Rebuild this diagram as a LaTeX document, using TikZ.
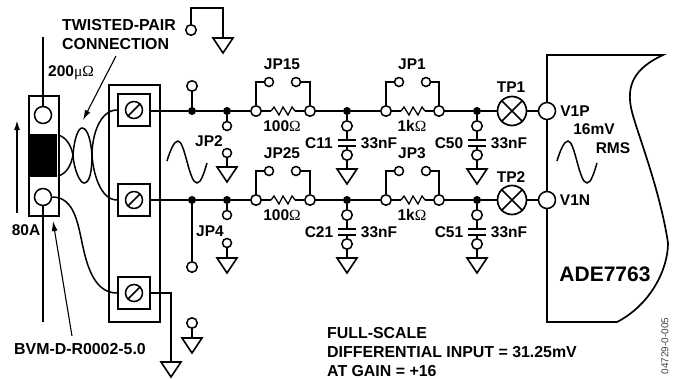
\documentclass[tikz,border=0pt]{standalone}
\usepackage{fontspec}
\setmainfont{Liberation Sans}
\newfontfamily\symfont{Liberation Serif}
\usetikzlibrary{arrows.meta}
\tikzset{
    lab/.style={font=\fontsize{15.5}{19}\selectfont\bfseries,inner sep=0pt},
    longlab/.style={inner sep=0pt,font=\fontsize{15.9}{19}\selectfont\bfseries},
    wire/.style={line width=1.7pt},
    pin/.style={circle,draw,line width=1.5pt,fill=white,inner sep=0pt,minimum size=10.5pt},
    smallpin/.style={pin,minimum size=9pt},
    bigpin/.style={pin,minimum size=17pt},
    dot/.style={circle,fill=black,inner sep=0pt,minimum size=8pt},
    term/.style={draw,line width=1.7pt,fill=white,inner sep=0pt,minimum size=32pt},
    testpt/.style={circle,draw,line width=1.7pt,fill=white,inner sep=0pt,minimum size=29pt},
    tip/.style={-{Latex[length=10pt,width=6pt]}},
    gnd/.pic={\draw[line width=1.6pt,line join=miter] (-10,0) -- (10,0) -- (0,15) -- cycle;},
    res/.pic={\draw[line width=1.3pt,fill=none] (-12,0) -- (-9,-4) -- (-4,4) -- (0,-4) -- (5,4) -- (9,-4) -- (12,0);},
    cap/.pic={\draw[line width=2pt] (-9,-3) -- (9,-3) (-9,3) -- (9,3);},
    screw/.pic={\draw[line width=1.5pt] (0,0) circle (8.5); \draw[line width=1.5pt] (-6,6) -- (6,-6);},
    sine/.pic={\draw[line width=1.5pt] (0,0) .. controls (3,-10) and (7,-20) .. (11,-20)
        .. controls (18,-20) and (22,22) .. (30,22) .. controls (34,22) and (37,12) .. (40,2);},
}
\newcommand{\ohms}{{\symfont\mdseries Ω}}
\begin{document}
\begin{tikzpicture}[x=1pt,y=-1pt]
\useasboundingbox (0,0) rectangle (674,378);

% chip outline
\draw[wire] (547,55) -- (663,55) .. controls (635,68) and (625,85) .. (632,112)
    .. controls (638,135) and (660,190) .. (668,243)
    .. controls (668,270) and (650,305) .. (617,322) -- (547,322) -- cycle;
\node[lab,font=\fontsize{21}{24}\selectfont\bfseries] (chip) at (605,274) {ADE7763};

% terminal block
\draw[wire] (109,85) rectangle (160,322);
\foreach \name/\y in {ta/110,tb/200,tc/293}{
    \node[term] (\name) at (134,\y) {};
    \pic at (134,\y) {screw};
}

% shunt
\draw[wire] (29,96) rectangle (59,216);
\fill (29,134) rectangle (57,177);
\node[bigpin] (sa) at (43,115) {};
\node[bigpin] (sb) at (43,197) {};
\coordinate (sup) at (43,37);
\coordinate (sdn) at (43,322);
\draw[wire] (sup) -- (sa);
\draw[wire] (sb) -- (sdn);
\coordinate (ia) at (17,213);
\coordinate (ib) at (17,120);
\draw[wire,tip] (ia) -- (ib);
\node[lab] (rval) at (71,73) {200{\symfont\mdseries μ}\ohms};
\node[lab] (amps) at (26,230) {80A};
\node[longlab] (part) at (80,349) {BVM-D-R0002-5.0};

% twisted pair
\draw[line width=1.5pt] (58,135) .. controls (66,137) and (71,145) .. (73,155)
    .. controls (74,170) and (80,183) .. (84,183) .. controls (90,183) and (92,170) .. (92,155)
    .. controls (92,135) and (100,110) .. (ta.west);
\draw[line width=1.5pt] (58,176) .. controls (66,174) and (71,166) .. (73,155)
    .. controls (74,140) and (78,128) .. (82,128) .. controls (88,128) and (91,142) .. (92,155)
    .. controls (93,172) and (100,200) .. (tb.west);
\draw[line width=1.5pt] (sb.east) .. controls (75,197) and (78,225) .. (83,247)
    .. controls (88,270) and (96,293) .. (tc.west);
\node[longlab,align=left,anchor=north west] (twist) at (62,19.5) {TWISTED-PAIR\\CONNECTION};
\coordinate (ta1) at (116,56);
\coordinate (ta2) at (83,120);
\draw[line width=1.1pt,tip] (ta1) -- (ta2);
\coordinate (tb1) at (72,336);
\coordinate (tb2) at (53,221);
\draw[line width=1.1pt,tip] (tb1) -- (tb2);

% grounds away from the rails
\node[pin] (pa) at (191,30) {};
\coordinate (ga) at (223,38);
\draw[wire] (pa) |- (223,8) -- (ga);
\pic at (ga) {gnd};
\node[pin] (pb) at (192,323) {};
\coordinate (gb) at (192,338);
\draw[wire] (pb) -- (gb);
\pic at (gb) {gnd};
\coordinate (gc) at (171,362);
\draw[wire] (tc) -| (gc);
\pic at (gc) {gnd};
\node[term] at (134,293) {};
\pic at (134,293) {screw};

% rails with jumpers, resistors and caps
\foreach \y/\ja/\jb/\ca/\cb in {111/15/1/11/50,200/25/3/21/51}{
    \pgfmathtruncatemacro{\u}{\y-29}
    \pgfmathtruncatemacro{\v}{\y+15}
    \pgfmathtruncatemacro{\w}{\y+44}
    \pgfmathtruncatemacro{\g}{\y+58}
    \pgfmathtruncatemacro{\t}{\y+32}
    \pgfmathtruncatemacro{\l}{\y-47}
    \pgfmathtruncatemacro{\m}{\y+15}
    \node[pin] (a\y) at (256,\y) {};
    \node[pin] (b\y) at (310,\y) {};
    \node[pin] (c\y) at (386,\y) {};
    \node[pin] (d\y) at (439,\y) {};
    \node[smallpin] (e\y) at (269,\u) {};
    \node[smallpin] (f\y) at (296,\u) {};
    \node[smallpin] (g\y) at (399,\u) {};
    \node[smallpin] (h\y) at (426,\u) {};
    \draw[wire] (a\y) |- (e\y);
    \draw[wire] (b\y) |- (f\y);
    \draw[wire] (c\y) |- (g\y);
    \draw[wire] (d\y) |- (h\y);
    \coordinate (ra\y) at (283,\y);
    \coordinate (rb\y) at (413,\y);
    \draw[wire] (a\y) -- (271,\y);
    \draw[wire] (295,\y) -- (b\y);
    \draw[wire] (c\y) -- (401,\y);
    \draw[wire] (425,\y) -- (d\y);
    \pic at (ra\y) {res};
    \pic at (rb\y) {res};
    \node[lab] (jp\ja) at (282,\l) {JP\ja};
    \node[lab] (jp\jb) at (412,\l) {JP\jb};
    \node[lab] (ohm\ja) at (282,\m) {100\ohms};
    \node[lab] (ohm\jb) at (412,\m) {1k\ohms};
    \foreach \x/\c/\lx in {347/\ca/319,477/\cb/449}{
        \node[dot] (n\x\y) at (\x,\y) {};
        \node[pin] (p\x\y) at (\x,\v) {};
        \node[pin] (q\x\y) at (\x,\w) {};
        \coordinate (s\x\y) at (\x,\g);
        \draw[wire] (n\x\y) -- (p\x\y);
        \draw[wire] (p\x\y) -- (\x,\t-3);
        \draw[wire] (\x,\t+3) -- (q\x\y);
        \draw[wire] (q\x\y) -- (s\x\y);
        \pic at (\x,\t) {cap};
        \pic at (s\x\y) {gnd};
        \node[lab] (cl\c) at (\lx,\t) {C\c};
        \pgfmathtruncatemacro{\vx}{\x+32}
        \node[lab] (cv\c) at (\vx,\t) {33nF};
    }
    % left of the jumpers
    \node[dot] (da\y) at (192,\y) {};
    \node[dot] (db\y) at (227,\y) {};
    \node[smallpin] (dc\y) at (227,\v) {};
    \draw[wire] (db\y) -- (dc\y);
    \coordinate (tl\y) at (150,\y);
    \draw[wire] (tl\y) -- (da\y) -- (db\y) -- (a\y);
    \draw[wire] (b\y) -- (n347\y) -- (c\y);
    \draw[wire] (d\y) -- (n477\y);
}
\node[pin] (jpa) at (192,86) {};
\draw[wire] (da111) -- (jpa);
\node[pin] (jpb) at (192,267) {};
\draw[wire] (da200) -- (jpb);
\foreach \y/\yy/\n in {153/167/2,243/258/4}{
    \node[smallpin] (jt\n) at (227,\y) {};
    \coordinate (jg\n) at (227,\yy);
    \draw[wire] (jt\n) -- (jg\n);
    \pic at (jg\n) {gnd};
}
\node[lab] (jp2) at (209,141) {JP2};
\node[lab] (jp4) at (210,231) {JP4};

% test points and chip inputs
\foreach \y/\tp/\vin/\ty in {111/1/P/87,200/2/N/177}{
    \node[testpt] (tp\tp) at (512,\y) {};
    \draw[wire] (tp\tp.45) -- (tp\tp.225) (tp\tp.135) -- (tp\tp.315);
    \node[bigpin] (v\tp) at (547,\y) {};
    \draw[wire] (n477\y) -- (tp\tp);
    \draw[wire] (tp\tp) -- (v\tp);
    \node[lab] (tpl\tp) at (511,\ty) {TP\tp};
    \node[lab] (vl\tp) at (575,\y) {V1\vin};
}
\pic at (167,161) {sine};
\pic at (557,161) {sine};
\node[lab] (mv) at (594,129) {16mV};
\node[lab] (rms) at (613,148) {RMS};

% notes
\node[longlab,align=left,anchor=north west] (note) at (327,327)
    {FULL-SCALE\\DIFFERENTIAL INPUT = 31.25mV\\AT GAIN = +16};
\node[rotate=90,inner sep=0pt,text=black!75,font=\fontsize{10}{11}\selectfont] (code) at (665,346) {04729-0-005};
\end{tikzpicture}
\end{document}
